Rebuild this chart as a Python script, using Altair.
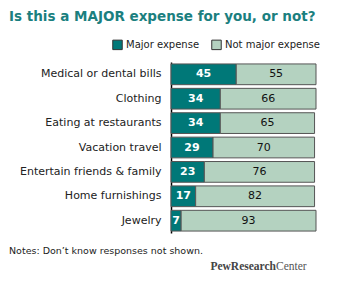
import altair as alt
import pandas as pd

categories = ["Medical or dental bills", "Clothing", "Eating at restaurants",
              "Vacation travel", "Entertain friends & family", "Home furnishings", "Jewelry"]
major = [45, 34, 34, 29, 23, 17, 7]
not_major = [55, 66, 65, 70, 76, 82, 93]
series = ["Major expense", "Not major expense"]

rows = []
for c, m, n in zip(categories, major, not_major):
    rows.append({"cat": c, "series": series[0], "value": m, "ord": 0, "start": 0, "end": m, "mid": m / 2})
    rows.append({"cat": c, "series": series[1], "value": n, "ord": 1, "start": m, "end": m + n, "mid": m + n / 2})
df = pd.DataFrame(rows)

FONT = "DejaVu Sans"
ycat = alt.Y("cat:N", sort=categories, scale=alt.Scale(paddingInner=0.15, paddingOuter=0.08),
             axis=alt.Axis(title=None, ticks=False, domainColor="#000", domainWidth=1.5,
                           labelFontSize=11, labelColor="#222", labelFont=FONT,
                           labelPadding=10, labelLimit=200))
xs = alt.Scale(domain=[0, 100])

bars = alt.Chart(df).mark_bar(stroke="#555", strokeWidth=1).encode(
    x=alt.X("start:Q", scale=xs, axis=None),
    x2="end:Q",
    y=ycat,
    color=alt.Color("series:N", scale=alt.Scale(domain=series, range=["#007878", "#b4d2c0"]),
                    legend=alt.Legend(title=None, orient="none", legendX=-59, legendY=-23,
                                      direction="horizontal", symbolType="square",
                                      symbolSize=90, symbolStrokeColor="#333", symbolStrokeWidth=1,
                                      labelFontSize=10, labelFont=FONT, labelColor="#222",
                                      columnPadding=9, labelOffset=3)),
)

lab_major = alt.Chart(df).transform_filter(alt.datum.ord == 0).mark_text(
    font=FONT, fontSize=11, fontWeight="bold", color="#ffffff").encode(
    x=alt.X("mid:Q", scale=xs),
    y=alt.Y("cat:N", sort=categories),
    text="value:Q",
)
lab_not = alt.Chart(df).transform_filter(alt.datum.ord == 1).mark_text(
    font=FONT, fontSize=11, color="#111111").encode(
    x=alt.X("mid:Q", scale=xs),
    y=alt.Y("cat:N", sort=categories),
    text="value:Q",
)

title = alt.Chart(pd.DataFrame({"t": ["Is this a MAJOR expense for you, or not?"]})).mark_text(
    font=FONT, fontSize=13.5, fontWeight="bold", align="left", baseline="middle", color="#1b7f7f").encode(
    x=alt.value(-162), y=alt.value(-45), text="t:N")
notes = alt.Chart(pd.DataFrame({"t": ["Notes: Don\u2019t know responses not shown."]})).mark_text(
    font=FONT, fontSize=9.5, align="left", baseline="middle", color="#222").encode(
    x=alt.value(-162), y=alt.value(189), text="t:N")
logo1 = alt.Chart(pd.DataFrame({"t": ["PewResearch"]})).mark_text(
    font="Liberation Serif", fontSize=11.5, fontWeight="bold", align="right", baseline="middle", color="#444").encode(
    x=alt.value(105), y=alt.value(205), text="t:N")
logo2 = alt.Chart(pd.DataFrame({"t": ["Center"]})).mark_text(
    font="Liberation Serif", fontSize=11.5, align="left", baseline="middle", color="#555").encode(
    x=alt.value(105), y=alt.value(205), text="t:N")

chart = alt.layer(bars, lab_major, lab_not, title, notes, logo1, logo2).properties(
    width=145, height=171,
    autosize=alt.AutoSizeParams(type="none"),
    padding={"left": 171, "top": 62, "right": 23, "bottom": 53},
).configure_view(stroke=None)

chart.save("out.html", embed_options={"renderer": "svg", "actions": False})
